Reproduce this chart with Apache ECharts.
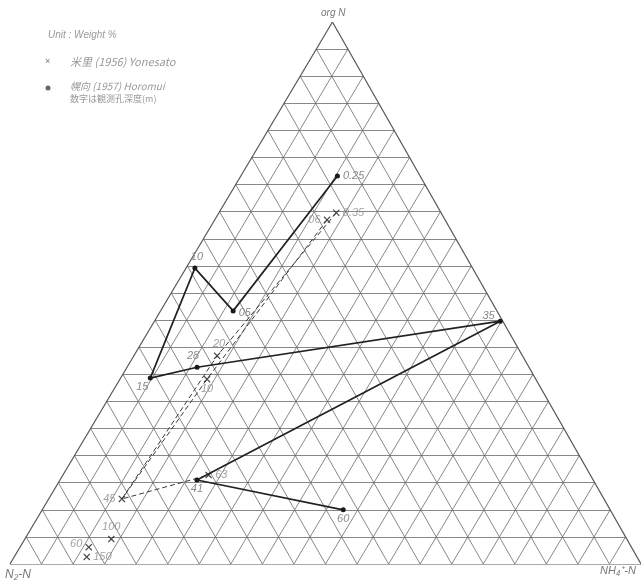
<!DOCTYPE html>
<html><head><meta charset="utf-8">
<script src="https://cdn.jsdelivr.net/npm/echarts@6/dist/echarts.min.js"></script>
<style>html,body{margin:0;padding:0;background:#fff}#c{width:641px;height:583px}</style>
</head><body><div id="c"></div>
<script>
// ---- data (weight %) ----
const gridTicks = [5,10,15,20,25,30,35,40,45,50,55,60,65,70,75,80,85,90,95];
const axisNames = ['org N', 'N₂-N', 'NH₄⁺-N'];

// Horomui (1957) – solid line, dots; labels = observation hole depth
const horomuiDepth = ['0.25','05','10','15','28','35','41','60'];
const horomuiOrgN  = [71.6, 46.7, 54.6, 34.3, 36.3, 44.8, 15.5, 10.0];
const horomuiNH4   = [15.3, 11.5,  1.4,  4.7, 11.1, 54.8, 21.7, 47.7];
const horomuiN2    = [13.1, 41.8, 44.0, 61.0, 52.6,  0.4, 62.8, 42.3];

// Yonesato (1956) – crosses, dashed lines
const yonesatoDepth = ['0.35','06','10','20','45','63','100','60','150'];
const yonesatoOrgN  = [64.8, 63.5, 34.1, 38.4, 12.0, 16.4,  4.6,  3.1,  1.3];
const yonesatoNH4   = [18.6, 17.8, 13.8, 13.2, 11.6, 23.1, 13.7, 10.9, 11.5];
const yonesatoN2    = [16.6, 18.7, 52.1, 48.4, 76.4, 60.5, 81.7, 86.0, 87.2];
const yonesatoPathA = ['0.35','20','45','63'];
const yonesatoPathB = ['06','10','45'];

// ---- geometry ----
const SKEW = 0.511; // horizontal position of the apex along the base
function toXY(org, nh4){ return [nh4 + SKEW*org, org]; }

const gridSegs = [];
gridTicks.forEach(t=>{
  gridSegs.push({coords:[toXY(t,0), toXY(t,100-t)]});          // const org N
  gridSegs.push({coords:[toXY(0,t), toXY(100-t,t)]});          // const NH4
  gridSegs.push({coords:[toXY(0,100-t), toXY(100-t,0)]});      // const N2
});
const border = [
  {coords:[toXY(0,0), toXY(0,100)]},
  {coords:[toXY(0,100), toXY(100,0)]},
  {coords:[toXY(100,0), toXY(0,0)]}
];

const lblFont = {fontFamily:'Liberation Sans', fontStyle:'italic', fontSize:11, color:'#8a8a8a'};
function pts(depth, org, nh4, places){
  return depth.map((d,i)=>{
    const p = places[d] || ['right',[0,0]];
    return {value: toXY(org[i], nh4[i]), name: d,
      label:{show:true, formatter:d, position:p[0], offset:p[1], distance:3, ...lblFont}};
  });
}
function pathXY(path){
  return path.map(d=>{ const i = yonesatoDepth.indexOf(d); return toXY(yonesatoOrgN[i], yonesatoNH4[i]); });
}
const horPlaces = {'0.25':['right',[0,0]],'05':['right',[0,2]],'10':['top',[2,0]],'15':['bottom',[-8,-2]],
  '28':['top',[-4,0]],'35':['left',[0,-5]],'41':['bottom',[0,-2]],'60':['bottom',[0,-2]]};
const yonPlaces = {'0.35':['right',[0,0]],'06':['left',[0,0]],'10':['bottom',[0,-2]],'20':['top',[2,0]],
  '45':['left',[0,0]],'63':['right',[0,0]],'100':['top',[0,0]],'60':['left',[0,-3]],'150':['right',[0,0]]};

const crossPath = 'path://M0,1.2L1.2,0L5,3.8L8.8,0L10,1.2L6.2,5L10,8.8L8.8,10L5,6.2L1.2,10L0,8.8L3.8,5Z';
const dashStyle = {color:'#3a3a3a', width:1, type:[5,3]};

const chart = echarts.init(document.getElementById('c'), null, {renderer:'canvas'});
chart.setOption({
  animation:false,
  backgroundColor:'#fff',
  grid:{left:10, top:22, width:632, height:542},
  xAxis:{type:'value', min:0, max:100, show:false},
  yAxis:{type:'value', min:0, max:100, show:false},
  series:[
    {type:'lines', coordinateSystem:'cartesian2d', data:gridSegs, silent:true,
     lineStyle:{color:'#6a6a6a', width:0.8, opacity:1}},
    {type:'lines', coordinateSystem:'cartesian2d', data:border, silent:true,
     lineStyle:{color:'#555', width:1.2, opacity:1}},
    {type:'line', data:pathXY(yonesatoPathA), symbol:'none', lineStyle:dashStyle},
    {type:'line', data:pathXY(yonesatoPathB), symbol:'none', lineStyle:dashStyle},
    {type:'line', data:pts(horomuiDepth, horomuiOrgN, horomuiNH4, horPlaces),
     symbol:'circle', symbolSize:5, lineStyle:{color:'#222', width:1.7},
     itemStyle:{color:'#1a1a1a'}},
    {type:'scatter', data:pts(yonesatoDepth, yonesatoOrgN, yonesatoNH4, yonPlaces),
     symbol:crossPath, symbolSize:7, itemStyle:{color:'#1a1a1a'}}
  ],
  graphic:[
    {type:'text', left:321, top:8, style:{text:axisNames[0], font:'italic 10px "Liberation Sans"', fill:'#777'}},
    {type:'text', left:5, top:569, style:{text:axisNames[1], font:'italic 12px "Liberation Sans"', fill:'#777'}},
    {type:'text', left:600, top:565, style:{text:axisNames[2], font:'italic 11px "Liberation Sans"', fill:'#777'}},
    {type:'text', left:48, top:30, style:{text:'Unit : Weight %', font:'italic 10px "Liberation Sans"', fill:'#999'}},
    {type:'text', left:45, top:57, style:{text:'×', font:'9px "Liberation Sans"', fill:'#777'}},
    {type:'text', left:70, top:56, style:{text:'米里 (1956) Yonesato', font:'italic 11px "Noto Sans CJK JP"', fill:'#999'}},
    {type:'circle', shape:{cx:48, cy:88, r:2.5}, style:{fill:'#666'}},
    {type:'text', left:70, top:81, style:{text:'幌向 (1957) Horomui', font:'italic 10px "Noto Sans CJK JP"', fill:'#999'}},
    {type:'text', left:70, top:94, style:{text:'数字は観測孔深度(m)', font:'9px "Noto Sans CJK JP"', fill:'#999'}}
  ]
});
</script></body></html>
